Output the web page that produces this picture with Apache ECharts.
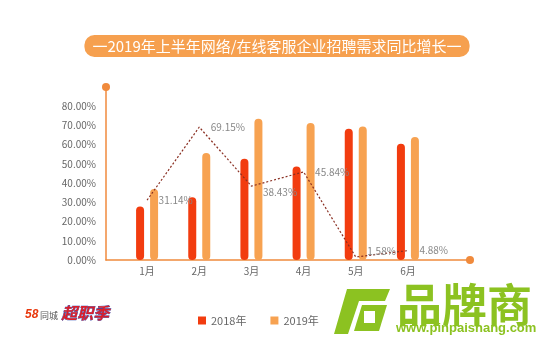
<!DOCTYPE html>
<html><head><meta charset="utf-8">
<script src="https://cdn.jsdelivr.net/npm/echarts@6/dist/echarts.min.js"></script>
<style>html,body{margin:0;padding:0;background:#fff}#c{width:554px;height:346px}</style>
</head><body><div id="c"></div>
<script>
const months = ['1月','2月','3月','4月','5月','6月'];
const v2018 = [27.8, 32.7, 52.7, 48.7, 68.3, 60.5];
const v2019 = [37.0, 55.7, 73.5, 71.3, 69.5, 64.0];
const growth = [31.14, 69.15, 38.43, 45.84, 1.58, 4.88];
const yTicks = [0,10,20,30,40,50,60,70,80];
const titleText = '一2019年上半年网络/在线客服企业招聘需求同比增长一';

const chart = echarts.init(document.getElementById('c'));
const font = '"Noto Sans CJK SC", "Noto Sans", sans-serif';
chart.setOption({
  animation:false,
  textStyle:{fontFamily:font},
  title:{text:titleText,left:'center',top:35,backgroundColor:'#f6a04f',borderRadius:10,padding:[2,8,2,8],
    textStyle:{color:'#fff',fontSize:15,fontWeight:'normal',fontFamily:font,lineHeight:18}},
  legend:{data:['2018年','2019年'],left:193,top:310,icon:'rect',itemWidth:8,itemHeight:8,itemGap:24,
    textStyle:{color:'#666',fontSize:11}},
  grid:[{left:106,right:84,top:87,bottom:86},{left:121,right:120,top:87,bottom:86}],
  xAxis:[
    {type:'value',gridIndex:0,min:0,max:1,axisLine:{show:true,lineStyle:{color:'#f08a3c',width:1.5},symbol:['none','circle'],symbolSize:[8,8]},
      axisTick:{show:false},axisLabel:{show:false},splitLine:{show:false}},
    {type:'category',gridIndex:1,data:months,axisLine:{show:false},axisTick:{show:false},
      axisLabel:{color:'#666',fontSize:10,margin:6}}
  ],
  yAxis:[
    {type:'value',gridIndex:0,min:0,max:90,interval:10,axisLine:{show:true,lineStyle:{color:'#f08a3c',width:1.5},symbol:['none','circle'],symbolSize:[8,8]},
      axisTick:{show:false},splitLine:{show:false},
      axisLabel:{color:'#666',fontSize:10,margin:10,formatter:v=>yTicks.indexOf(v)>=0?v.toFixed(2)+'%':''}},
    {type:'value',gridIndex:1,min:0,max:90,show:false}
  ],
  series:[
    {name:'2018年',type:'bar',xAxisIndex:1,yAxisIndex:1,data:v2018,barWidth:8,barGap:'75%',
      itemStyle:{color:'#f23c0f',borderRadius:4}},
    {name:'2019年',type:'bar',xAxisIndex:1,yAxisIndex:1,data:v2019,barWidth:8,
      itemStyle:{color:'#f7a251',borderRadius:4}},
    {name:'同比增长',type:'line',xAxisIndex:1,yAxisIndex:1,data:growth,showSymbol:true,symbol:'circle',symbolSize:1,
      itemStyle:{color:'rgba(0,0,0,0)'},z:5,
      lineStyle:{color:'#8a2f22',width:1.2,type:[2,2]},
      label:{show:true,position:'right',distance:11,offset:[0,-4],color:'#888',fontSize:10,formatter:p=>p.value.toFixed(2)+'%'},
      labelLayout:p=>p.dataIndex===4?{dy:-6}:(p.dataIndex===2?{dy:6}:{})}
  ],
  graphic:[
    {type:'polygon',shape:{points:[[347,289],[390,289],[385,301],[359,301],[348,334],[334,334]]},style:{fill:'#8cc221'}},
    {type:'polygon',shape:{points:[[362,305],[387,305],[379,331],[354,331]]},style:{fill:'#8cc221'}},
    {type:'rect',shape:{x:364,y:311,width:11,height:12},style:{fill:'#fff'}},
    {type:'text',left:397,top:282,style:{text:'品牌商',fill:'#8cc221',font:'bold 45px "Noto Sans CJK SC"'}},
    {type:'text',left:396,top:322,style:{text:'www.pinpaishang.com',fill:'#8cc221',font:'bold 13px "Liberation Sans"'}},
    {type:'text',left:25,top:309,style:{text:'58',fill:'#e8380d',font:'bold italic 12px "Liberation Sans"'}},
    {type:'text',left:40,top:311,style:{text:'同城',fill:'#555',font:'9px "Noto Sans CJK SC"'}},
    {type:'text',left:61,top:305,style:{text:'超职季',fill:'#d81e2a',font:'italic bold 16px "Noto Sans CJK SC"',stroke:'#2a4fb5',lineWidth:0.6}}
  ]
});
</script></body></html>
